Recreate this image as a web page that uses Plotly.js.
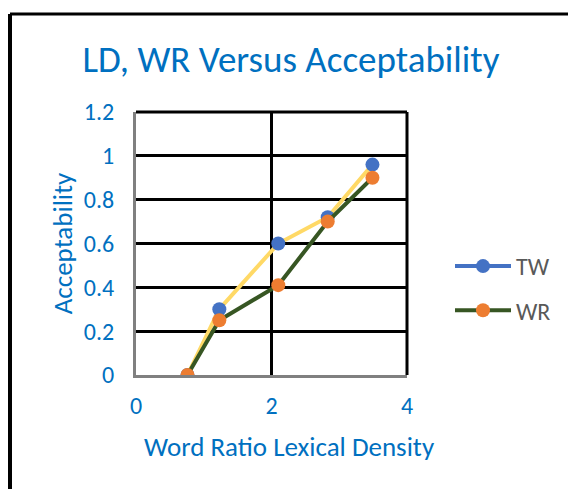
<!DOCTYPE html>
<html>
<head>
<meta charset="utf-8">
<script src="https://cdn.plot.ly/plotly-3.0.1.min.js"></script>
<style>
  html, body { margin: 0; padding: 0; background: #ffffff; }
  #chart { width: 568px; height: 489px; }
</style>
</head>
<body>
<div id="chart"></div>
<script>
// Data
const seriesNames = ["TW", "WR"];
const xValues = [0.76, 1.23, 2.10, 2.83, 3.49];
const twValues = [0.00, 0.30, 0.60, 0.72, 0.96];
const wrValues = [0.00, 0.25, 0.41, 0.70, 0.90];
const xTicks = [0, 2, 4];
const yTicks = [0, 0.2, 0.4, 0.6, 0.8, 1, 1.2];
const yTickText = ["0", "0.2", "0.4", "0.6", "0.8", "1", "1.2"];
const xTitle = "Word Ratio Lexical Density";
const yTitle = "Acceptability";
const chartTitle = "LD, WR Versus Acceptability";

const FONT = "Carlito, Lato, 'Open Sans', sans-serif";
const BLUE_TEXT = "#0070C0";

const traces = [
  {
    x: xValues, y: twValues, name: seriesNames[0], legendgroup: "tw", showlegend: false,
    mode: "lines+markers", type: "scatter",
    line: { color: "#FFD966", width: 4 },
    marker: { color: "#4472C4", size: 14 }
  },
  {
    x: xValues, y: wrValues, name: seriesNames[1], legendgroup: "wr", showlegend: false,
    mode: "lines+markers", type: "scatter",
    line: { color: "#375623", width: 4 },
    marker: { color: "#ED7D31", size: 14 }
  },
  // legend entries (Excel legend shows the series default colours)
  {
    x: [null], y: [null], name: seriesNames[0], legendgroup: "tw",
    mode: "lines+markers", type: "scatter",
    line: { color: "#4472C4", width: 4 },
    marker: { color: "#4472C4", size: 14 }
  },
  {
    x: [null], y: [null], name: seriesNames[1], legendgroup: "wr",
    mode: "lines+markers", type: "scatter",
    line: { color: "#375623", width: 4 },
    marker: { color: "#ED7D31", size: 14 }
  }
];

const layout = {
  width: 568, height: 489,
  margin: { l: 136, r: 161, t: 112, b: 114 },
  paper_bgcolor: "#ffffff", plot_bgcolor: "#ffffff",
  font: { family: FONT, color: BLUE_TEXT },
  title: {
    text: chartTitle,
    font: { family: FONT, size: 37, color: BLUE_TEXT },
    x: 291 / 568, xanchor: "center", xref: "container",
    y: 1 - 59 / 489, yanchor: "middle", yref: "container"
  },
  xaxis: {
    range: [0, 4], tickvals: xTicks, ticktext: xTicks.map(String),
    showgrid: true, gridcolor: "#000000", gridwidth: 3,
    zeroline: false, showline: true, linecolor: "#808080", linewidth: 3,
    ticks: "", tickfont: { family: FONT, size: 24, color: BLUE_TEXT },
    ticklabelstandoff: 7,
    fixedrange: true
  },
  yaxis: {
    range: [0, 1.2], tickvals: yTicks, ticktext: yTickText,
    showgrid: true, gridcolor: "#000000", gridwidth: 3,
    zeroline: false, showline: true, linecolor: "#808080", linewidth: 3,
    ticks: "", tickfont: { family: FONT, size: 24, color: BLUE_TEXT },
    ticklabelstandoff: 14,
    title: { text: yTitle, font: { family: FONT, size: 27, color: BLUE_TEXT }, standoff: 4 },
    fixedrange: true
  },
  annotations: [
    {
      text: xTitle, xref: "paper", yref: "paper",
      x: (289 - 136) / 271, xanchor: "center",
      y: (375 - 446) / 263, yanchor: "middle",
      showarrow: false,
      font: { family: FONT, size: 27, color: BLUE_TEXT }
    }
  ],
  showlegend: true,
  legend: {
    x: (450 - 136) / 271, xanchor: "left",
    y: (375 - 244) / 263, yanchor: "top",
    font: { family: FONT, size: 24, color: "#595959" },
    itemwidth: 56, tracegroupgap: 10,
    bgcolor: "rgba(0,0,0,0)"
  },
  shapes: [
    // top and right border of the plot area
    { type: "line", xref: "paper", yref: "paper", x0: 0, x1: 1, y0: 1, y1: 1, line: { color: "#000000", width: 3 } },
    { type: "line", xref: "paper", yref: "paper", x0: 1, x1: 1, y0: 0, y1: 1, line: { color: "#000000", width: 3 } },
    // outer chart frame (left and top edges visible)
    { type: "line", xref: "paper", yref: "paper", x0: (10 - 136) / 271, x1: (10 - 136) / 271, y0: (375 - 14) / 263, y1: -1, line: { color: "#000000", width: 4 } },
    { type: "line", xref: "paper", yref: "paper", x0: (10 - 136) / 271, x1: 2, y0: (375 - 14) / 263, y1: (375 - 14) / 263, line: { color: "#000000", width: 3 } }
  ]
};

Plotly.newPlot("chart", traces, layout, { displayModeBar: false, staticPlot: true });
</script>
</body>
</html>
